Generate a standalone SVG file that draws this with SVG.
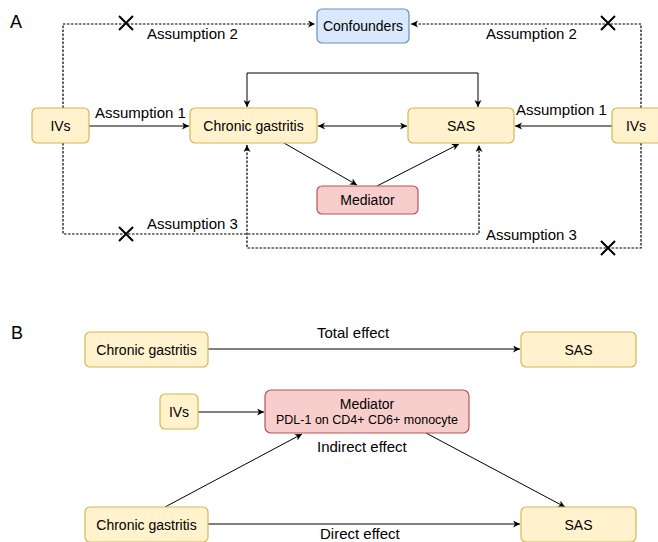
<svg xmlns="http://www.w3.org/2000/svg" width="658" height="542" viewBox="0 0 658 542">
<style>
text{font-family:"Liberation Sans",Arial,sans-serif;fill:#000}
.n{font-size:14px;text-anchor:middle}
.lb{font-size:15px}
.pl{font-size:18px}
.y{fill:#fff2cc;stroke:#d6b656;stroke-width:1.2}
.b{fill:#dae8fc;stroke:#6c8ebf;stroke-width:1.2}
.r{fill:#f8cecc;stroke:#b85450;stroke-width:1.2}
.c{fill:none;stroke:#000;stroke-width:1}
.d{fill:none;stroke:#000;stroke-width:1.2;stroke-dasharray:2.5 1.5}
.x{stroke:#000;stroke-width:2}
</style>
<defs>
<marker id="ah" markerUnits="userSpaceOnUse" markerWidth="8" markerHeight="8" refX="7" refY="3.5" orient="auto-start-reverse">
<path d="M0,0 L7,3.5 L0,7 L2,3.5 z" fill="#000"/>
</marker>
</defs>
<text class="pl" x="10" y="28">A</text>
<text class="pl" x="11" y="339">B</text>
<g id="connectors">
<path class="d" d="M63,108 V24 H315" marker-end="url(#ah)"/>
<path class="d" d="M641,108 V24 H411" marker-end="url(#ah)"/>
<path class="d" d="M63,143 V234 H479 V145" marker-end="url(#ah)"/>
<path class="d" d="M641,143 V248 H247 V145" marker-end="url(#ah)"/>
<path class="c" d="M247,107 V73 H478 V107" marker-start="url(#ah)" marker-end="url(#ah)"/>
<path class="c" d="M89,126 H189" marker-end="url(#ah)"/>
<path class="c" d="M612,126 H515" marker-end="url(#ah)"/>
<path class="c" d="M318,126 H407" marker-start="url(#ah)" marker-end="url(#ah)"/>
<path class="c" d="M284,143 L357,185" marker-end="url(#ah)"/>
<path class="c" d="M377,186 L459,144" marker-end="url(#ah)"/>
<path class="c" d="M208,349 H520" marker-end="url(#ah)"/>
<path class="c" d="M198,412 H264" marker-end="url(#ah)"/>
<path class="c" d="M165,507 L302,434" marker-end="url(#ah)"/>
<path class="c" d="M426,433 L565,507" marker-end="url(#ah)"/>
<path class="c" d="M208,524 H520" marker-end="url(#ah)"/>
<path class="x" d="M119,16 L133,30 M133,16 L119,30"/>
<path class="x" d="M601,16 L615,30 M615,16 L601,30"/>
<path class="x" d="M119,227 L133,241 M133,227 L119,241"/>
<path class="x" d="M601,241 L615,255 M615,241 L601,255"/>
<text class="lb" x="147" y="39">Assumption 2</text>
<text class="lb" x="486" y="39">Assumption 2</text>
<text class="lb" x="95" y="118">Assumption 1</text>
<text class="lb" x="516" y="115">Assumption 1</text>
<text class="lb" x="147" y="229">Assumption 3</text>
<text class="lb" x="486" y="240">Assumption 3</text>
<text class="lb" x="317" y="338">Total effect</text>
<text class="lb" x="317" y="452">Indirect effect</text>
<text class="lb" x="320" y="539">Direct effect</text>
</g>
<g id="confounders"><rect class="b" x="317" y="9" width="92" height="34" rx="5"/><text class="n" x="363" y="31">Confounders</text></g>
<g id="ivs-left"><rect class="y" x="32" y="108" width="57" height="35" rx="5"/><text class="n" x="60.5" y="130.5">IVs</text></g>
<g id="cg-a"><rect class="y" x="190" y="108" width="127" height="35" rx="5"/><text class="n" x="253.5" y="130.5">Chronic gastritis</text></g>
<g id="sas-a"><rect class="y" x="408" y="108" width="106" height="35" rx="5"/><text class="n" x="461" y="130.5">SAS</text></g>
<g id="ivs-right"><rect class="y" x="612" y="108" width="57" height="35" rx="5"/><text class="n" x="636" y="130.5">IVs</text></g>
<g id="mediator-a"><rect class="r" x="317" y="186" width="101" height="28" rx="5"/><text class="n" x="367.5" y="205">Mediator</text></g>
<g id="cg-b1"><rect class="y" x="85" y="332" width="123" height="35" rx="5"/><text class="n" x="146.5" y="354.5">Chronic gastritis</text></g>
<g id="sas-b1"><rect class="y" x="521" y="332" width="115" height="35" rx="5"/><text class="n" x="578.5" y="354.5">SAS</text></g>
<g id="ivs-b"><rect class="y" x="160" y="394" width="38" height="35" rx="5"/><text class="n" x="179" y="416.5">IVs</text></g>
<g id="mediator-b"><rect class="r" x="265" y="390" width="204" height="43" rx="6"/><text class="n" x="367" y="409">Mediator</text><text class="n" x="367" y="424" style="font-size:12.5px">PDL-1 on CD4+ CD6+ monocyte</text></g>
<g id="cg-b2"><rect class="y" x="85" y="507" width="123" height="35" rx="5"/><text class="n" x="146.5" y="529.5">Chronic gastritis</text></g>
<g id="sas-b2"><rect class="y" x="521" y="507" width="115" height="35" rx="5"/><text class="n" x="578.5" y="529.5">SAS</text></g>
</svg>
